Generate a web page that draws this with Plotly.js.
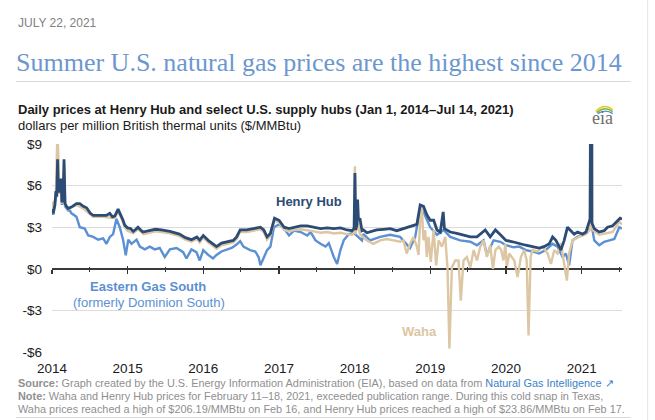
<!DOCTYPE html>
<html>
<head>
<meta charset="utf-8">
<script src="https://cdn.plot.ly/plotly-3.0.1.min.js"></script>
<style>
html,body{margin:0;padding:0;background:#fff;}
#chart{width:655px;height:420px;}
</style>
</head>
<body>
<div id="chart"></div>
<script>
// ---------- DATA ----------
const hhDates = ["2014-01-01","2014-01-07","2014-01-15","2014-01-20","2014-01-24","2014-01-28","2014-01-31","2014-02-05","2014-02-10","2014-02-13","2014-02-18","2014-02-24","2014-02-28","2014-03-05","2014-03-12","2014-03-20","2014-04-10","2014-04-29","2014-05-15","2014-06-01","2014-06-17","2014-07-05","2014-07-19","2014-08-10","2014-09-05","2014-09-20","2014-10-07","2014-10-20","2014-10-31","2014-11-16","2014-11-25","2014-12-02","2014-12-10","2014-12-18","2015-01-01","2015-01-15","2015-01-28","2015-02-10","2015-02-20","2015-03-05","2015-03-16","2015-04-15","2015-05-15","2015-06-13","2015-07-24","2015-09-08","2015-10-07","2015-11-05","2015-12-01","2015-12-15","2016-01-01","2016-01-25","2016-02-17","2016-03-05","2016-03-29","2016-04-22","2016-05-25","2016-06-10","2016-06-27","2016-07-29","2016-08-31","2016-10-03","2016-10-19","2016-11-04","2016-11-20","2016-12-10","2017-01-01","2017-01-25","2017-02-18","2017-03-14","2017-04-15","2017-05-17","2017-06-18","2017-07-20","2017-08-21","2017-09-22","2017-10-24","2017-11-25","2017-12-19","2017-12-29","2018-01-02","2018-01-06","2018-01-12","2018-01-15","2018-01-19","2018-01-26","2018-02-05","2018-02-12","2018-03-01","2018-03-16","2018-04-17","2018-05-20","2018-06-21","2018-07-23","2018-08-24","2018-09-25","2018-10-28","2018-11-13","2018-11-29","2018-12-15","2018-12-31","2019-01-17","2019-02-02","2019-02-18","2019-03-04","2019-03-10","2019-04-07","2019-05-09","2019-06-10","2019-07-13","2019-08-14","2019-09-23","2019-10-17","2019-11-11","2019-12-05","2020-01-01","2020-02-02","2020-03-05","2020-04-06","2020-05-08","2020-06-09","2020-07-03","2020-07-28","2020-08-13","2020-08-29","2020-09-14","2020-09-22","2020-10-08","2020-10-24","2020-11-09","2020-11-25","2020-12-11","2021-01-05","2021-01-21","2021-02-03","2021-02-10","2021-02-17","2021-02-19","2021-03-02","2021-03-26","2021-04-19","2021-05-05","2021-05-30","2021-06-23","2021-07-05","2021-07-14"];
const hhPrices = [4.3,4.0,4.6,5.6,5.2,7.9,6.0,5.5,5.9,6.5,4.8,5.0,7.9,4.7,4.5,4.35,4.5,4.7,4.7,4.5,4.4,4.0,3.85,3.85,3.9,3.85,4.0,3.75,3.8,4.3,4.0,3.8,3.5,3.15,2.95,2.9,2.7,2.85,3.0,2.8,2.65,2.75,2.85,2.8,2.7,2.5,2.25,2.1,2.3,2.07,2.4,2.05,1.8,1.6,1.85,1.95,2.05,2.3,2.8,2.8,2.9,3.0,2.8,2.3,2.55,3.65,3.5,3.0,2.9,3.0,3.1,3.1,3.0,2.9,2.95,2.9,2.95,2.8,2.75,2.9,6.9,2.8,3.2,5.0,3.5,3.65,2.75,2.8,2.6,2.65,2.8,2.85,2.9,2.75,2.9,3.0,3.2,4.6,4.5,3.9,3.5,3.5,2.8,2.65,4.1,2.9,2.65,2.55,2.45,2.3,2.3,2.8,2.3,2.8,2.45,2.05,1.95,1.8,1.7,1.6,1.5,1.6,1.8,2.3,2.05,1.6,1.35,2.05,3.0,2.75,2.5,2.65,2.5,2.65,3.2,3.6,23.86,3.3,2.9,2.65,2.75,3.0,3.1,3.5,3.65,3.6];

const egsDates = ["2014-01-01","2014-01-07","2014-01-20","2014-01-28","2014-01-31","2014-02-13","2014-02-18","2014-02-28","2014-03-05","2014-03-20","2014-03-28","2014-04-05","2014-04-29","2014-05-15","2014-06-08","2014-06-25","2014-07-19","2014-08-12","2014-09-05","2014-09-21","2014-10-07","2014-10-23","2014-11-08","2014-11-24","2014-12-10","2014-12-23","2015-01-04","2015-01-20","2015-02-13","2015-03-01","2015-03-25","2015-04-18","2015-05-12","2015-06-05","2015-06-29","2015-07-24","2015-08-25","2015-09-26","2015-10-12","2015-11-05","2015-11-29","2015-12-15","2016-01-01","2016-01-25","2016-02-17","2016-03-05","2016-03-29","2016-04-22","2016-05-17","2016-06-10","2016-06-27","2016-07-13","2016-08-14","2016-09-08","2016-09-24","2016-10-03","2016-10-19","2016-11-04","2016-11-20","2016-12-07","2017-01-01","2017-01-25","2017-02-18","2017-03-14","2017-04-15","2017-05-17","2017-06-02","2017-06-26","2017-07-20","2017-08-13","2017-08-29","2017-09-22","2017-10-08","2017-10-24","2017-11-09","2017-12-03","2017-12-27","2018-01-20","2018-02-05","2018-02-12","2018-03-16","2018-05-04","2018-06-21","2018-08-08","2018-09-25","2018-10-20","2018-11-13","2018-11-29","2018-12-31","2019-02-02","2019-03-06","2019-04-07","2019-05-25","2019-07-13","2019-08-14","2019-09-15","2019-10-01","2019-11-02","2019-12-05","2020-01-01","2020-02-07","2020-03-05","2020-04-06","2020-05-08","2020-06-09","2020-07-11","2020-08-13","2020-09-06","2020-09-30","2020-10-16","2020-11-01","2020-11-17","2020-12-11","2021-01-05","2021-01-29","2021-02-17","2021-03-02","2021-03-26","2021-04-19","2021-05-14","2021-06-07","2021-07-01","2021-07-14"];
const egsPrices = [4.2,3.9,5.3,7.0,5.8,6.0,4.6,6.5,4.5,4.2,4.2,4.0,3.75,3.0,2.9,2.4,2.3,2.1,2.2,1.8,2.3,2.5,3.6,3.0,2.1,0.97,2.1,1.8,2.1,1.6,1.4,1.6,1.4,1.5,0.85,1.4,1.5,1.2,0.74,1.4,1.2,0.6,1.35,1.0,0.75,1.0,1.25,1.35,1.5,1.75,2.0,1.6,1.35,1.25,0.85,0.25,0.85,1.35,1.6,3.0,3.2,2.9,2.4,2.75,2.65,2.4,2.65,2.05,1.8,1.6,1.85,0.85,0.35,1.35,2.05,2.5,2.6,2.3,2.05,2.5,2.05,2.3,2.45,2.3,1.5,2.3,4.4,4.1,3.0,2.45,2.8,2.3,2.05,1.95,1.7,2.05,1.0,2.05,1.95,1.7,1.55,1.6,1.35,1.25,1.1,1.35,1.8,1.6,0.85,1.1,0.25,2.05,2.3,2.45,2.65,3.2,2.05,1.7,1.95,2.05,2.15,3.0,2.9];

const wahaDates = ["2014-01-01","2014-01-07","2014-01-20","2014-01-27","2014-01-31","2014-02-05","2014-02-13","2014-02-18","2014-02-28","2014-03-05","2014-03-20","2014-04-29","2014-06-01","2014-07-19","2014-09-05","2014-10-31","2014-11-16","2014-12-02","2014-12-18","2015-01-01","2015-01-28","2015-02-20","2015-03-20","2015-04-15","2015-05-15","2015-06-13","2015-07-24","2015-09-08","2015-10-07","2015-11-05","2015-12-01","2015-12-15","2016-01-01","2016-01-25","2016-02-17","2016-03-05","2016-03-29","2016-04-22","2016-05-25","2016-06-10","2016-06-27","2016-07-29","2016-08-31","2016-10-03","2016-10-19","2016-11-04","2016-11-20","2016-12-10","2017-01-01","2017-01-25","2017-02-18","2017-03-14","2017-04-15","2017-05-17","2017-06-18","2017-07-20","2017-08-21","2017-09-22","2017-10-24","2017-11-25","2017-12-19","2017-12-29","2018-01-02","2018-01-06","2018-01-15","2018-01-20","2018-01-26","2018-02-27","2018-04-01","2018-05-04","2018-06-05","2018-07-07","2018-08-08","2018-08-24","2018-09-09","2018-09-25","2018-10-11","2018-10-28","2018-11-05","2018-11-13","2018-11-21","2018-11-29","2018-12-07","2018-12-15","2018-12-23","2019-01-03","2019-01-17","2019-01-29","2019-02-10","2019-02-26","2019-03-14","2019-03-25","2019-04-03","2019-04-15","2019-05-01","2019-05-17","2019-05-28","2019-06-10","2019-06-26","2019-07-13","2019-07-29","2019-08-14","2019-08-30","2019-09-15","2019-10-01","2019-10-17","2019-10-30","2019-11-11","2019-11-27","2019-12-09","2019-12-20","2019-12-29","2020-01-05","2020-01-17","2020-02-10","2020-02-26","2020-03-13","2020-03-29","2020-04-10","2020-04-19","2020-04-29","2020-05-08","2020-06-02","2020-06-26","2020-07-20","2020-08-05","2020-08-21","2020-09-06","2020-09-22","2020-10-08","2020-10-21","2020-11-01","2020-11-17","2020-12-19","2021-01-21","2021-02-09","2021-02-16","2021-02-19","2021-02-23","2021-03-26","2021-04-27","2021-05-30","2021-07-01","2021-07-14"];
const wahaPrices = [4.85,4.0,5.5,9.8,8.5,5.4,6.2,4.7,7.5,4.6,4.3,4.6,4.35,3.75,3.75,3.65,4.15,3.65,3.0,2.75,2.55,2.85,2.5,2.6,2.7,2.65,2.55,2.35,2.1,1.95,2.15,1.9,2.25,1.9,1.65,1.45,1.7,1.8,1.9,2.15,2.65,2.65,2.75,2.85,2.65,2.1,2.4,3.5,3.35,2.8,2.7,2.8,2.85,2.8,2.7,2.6,2.65,2.55,2.6,2.5,2.45,2.6,7.4,2.5,4.6,2.9,2.5,2.05,1.8,2.05,2.15,2.05,1.95,2.05,1.1,1.8,2.3,1.6,1.0,3.5,4.4,2.05,2.8,0.85,2.3,0.5,2.8,0.25,2.05,1.6,2.3,0.0,-5.75,0.1,0.6,0.6,-2.3,0.6,0.85,0.1,1.35,0.6,1.6,2.05,0.85,1.7,0.0,1.35,1.6,1.35,0.6,1.8,0.1,1.1,0.6,-0.6,0.85,1.35,0.6,-4.8,0.85,1.35,1.25,1.6,1.1,0.35,1.35,1.1,1.85,0.35,-0.85,1.1,2.05,2.3,2.5,2.8,206.19,3.0,2.8,2.45,2.55,2.65,3.4,3.2];

const yTickVals = [-6,-3,0,3,6,9];
const yTickText = ["-$6","-$3","$0","$3","$6","$9"];
const yearTicks = ["2014-01-01","2015-01-01","2016-01-01","2017-01-01","2018-01-01","2019-01-01","2020-01-01","2021-01-01"];
const yearLabels = ["2014","2015","2016","2017","2018","2019","2020","2021"];
const midYearTicks = ["2014-07-01","2015-07-01","2016-07-01","2017-07-01","2018-07-01","2019-07-01","2020-07-01","2021-07-01"];
const xRange = ["2014-01-01","2021-07-14"];

// ---------- STYLE ----------
const C_HH = "#2c4b75", C_EGS = "#5b90d3", C_WAHA = "#dcc6a3";
const SANS = "Liberation Sans, Arial, sans-serif";
const SERIF = "Liberation Serif, Times New Roman, serif";

// plot box in pixels: left 52, right 622.3, top 144.3, bottom 351.7
const PL = 52, PR = 622.3, PT = 144.3, PB = 351.7;
const xp = px => (px - PL) / (PR - PL);
const yp = py => (PB - py) / (PB - PT);

const traces = [
  {type:"scatter", mode:"lines", x:egsDates, y:egsPrices, xaxis:"x", yaxis:"y",
   line:{color:C_EGS, width:2.4}, name:"Eastern Gas South", hoverinfo:"skip"},
  {type:"scatter", mode:"lines", x:wahaDates, y:wahaPrices, xaxis:"x2", yaxis:"y",
   line:{color:C_WAHA, width:2.4}, name:"Waha", hoverinfo:"skip"},
  {type:"scatter", mode:"lines", x:hhDates, y:hhPrices, xaxis:"x3", yaxis:"y",
   line:{color:C_HH, width:2.8}, name:"Henry Hub", hoverinfo:"skip"}
];

const baseX = {type:"date", range:xRange, showgrid:false, zeroline:false, fixedrange:true};

const FOOT = {family:SANS, size:10.9, color:"#8f8f8f"};

const layout = {
  width:655, height:420,
  margin:{l:PL, r:655-PR, t:PT, b:420-PB},
  paper_bgcolor:"#fff", plot_bgcolor:"#fff",
  showlegend:false,
  font:{family:SANS, color:"#222"},
  xaxis: Object.assign({}, baseX, {
    tickmode:"array", tickvals:yearTicks, ticktext:yearLabels,
    ticks:"", showline:false, ticklabelstandoff:6,
    tickfont:{size:13.5, color:"#1a1a1a", family:SANS}
  }),
  xaxis2: Object.assign({}, baseX, {
    overlaying:"x", matches:"x", anchor:"free", position:0.4, side:"bottom",
    tickmode:"array", tickvals:yearTicks, showticklabels:false,
    ticks:"outside", ticklen:4, tickwidth:1.2, tickcolor:"#333", showline:false,
    minor:{tickmode:"array", tickvals:midYearTicks, ticks:"outside", ticklen:2, tickwidth:1, tickcolor:"#333"}
  }),
  xaxis3: Object.assign({}, baseX, {
    overlaying:"x", matches:"x", anchor:"free", position:0.4, side:"bottom",
    tickmode:"array", tickvals:yearTicks, showticklabels:false,
    ticks:"inside", ticklen:3, tickwidth:1.2, tickcolor:"#333", showline:false,
    minor:{tickmode:"array", tickvals:midYearTicks, ticks:"inside", ticklen:2, tickwidth:1, tickcolor:"#333"}
  }),
  yaxis: {
    range:[-6,9], tickmode:"array", tickvals:yTickVals, ticktext:yTickText,
    showgrid:true, gridcolor:"#dcdcdc", gridwidth:1,
    zeroline:true, zerolinecolor:"#3a3a3a", zerolinewidth:1.5,
    showline:false, ticks:"", ticklabelstandoff:9, fixedrange:true,
    tickfont:{size:13.5, color:"#1a1a1a", family:SANS}
  },
  annotations: [
    {text:"JULY 22, 2021", x:xp(16), y:yp(24), xref:"paper", yref:"paper", xanchor:"left", yanchor:"middle",
     showarrow:false, font:{family:SANS, size:12, color:"#808080"}},
    {text:"Summer U.S. natural gas prices are the highest since 2014", x:xp(14), y:yp(63), xref:"paper", yref:"paper",
     xanchor:"left", yanchor:"middle", showarrow:false, font:{family:SERIF, size:26, color:"#6b97cf"}},
    {text:"<b>Daily prices at Henry Hub and select U.S. supply hubs (Jan 1, 2014–Jul 14, 2021)</b>", x:xp(16), y:yp(110),
     xref:"paper", yref:"paper", xanchor:"left", yanchor:"middle", showarrow:false, font:{family:SANS, size:13, color:"#1a1a1a"}},
    {text:"dollars per million British thermal units ($/MMBtu)", x:xp(16), y:yp(125.5),
     xref:"paper", yref:"paper", xanchor:"left", yanchor:"middle", showarrow:false, font:{family:SANS, size:13, color:"#1a1a1a"}},
    {text:"eia", x:xp(603), y:yp(118), xref:"paper", yref:"paper", xanchor:"center", yanchor:"middle",
     showarrow:false, font:{family:SERIF, size:18, color:"#6e6e6e"}},
    {text:"<b>Henry Hub</b>", x:xp(309), y:yp(201.7), xref:"paper", yref:"paper", xanchor:"center", yanchor:"middle",
     showarrow:false, font:{family:SANS, size:13, color:C_HH}},
    {text:"<b>Eastern Gas South</b>", x:xp(148), y:yp(286), xref:"paper", yref:"paper", xanchor:"center", yanchor:"middle",
     showarrow:false, font:{family:SANS, size:13, color:C_EGS}},
    {text:"(formerly Dominion South)", x:xp(149), y:yp(302.7), xref:"paper", yref:"paper", xanchor:"center", yanchor:"middle",
     showarrow:false, font:{family:SANS, size:13, color:C_EGS}},
    {text:"<b>Waha</b>", x:xp(419.5), y:yp(331.7), xref:"paper", yref:"paper", xanchor:"center", yanchor:"middle",
     showarrow:false, font:{family:SANS, size:13, color:C_WAHA}},
    {text:"<b>Source:</b> Graph created by the U.S. Energy Information Administration (EIA), based on data from <span style='color:#3d7fc6'>Natural Gas Intelligence ↗</span>",
     x:xp(16), y:yp(383), xref:"paper", yref:"paper", xanchor:"left", yanchor:"middle", showarrow:false, font:FOOT},
    {text:"<b>Note:</b> Waha and Henry Hub prices for February 11–18, 2021, exceeded publication range. During this cold snap in Texas,",
     x:xp(16), y:yp(396), xref:"paper", yref:"paper", xanchor:"left", yanchor:"middle", showarrow:false, font:FOOT},
    {text:"Waha prices reached a high of $206.19/MMBtu on Feb 16, and Henry Hub prices reached a high of $23.86/MMBtu on Feb 17.",
     x:xp(16), y:yp(409), xref:"paper", yref:"paper", xanchor:"left", yanchor:"middle", showarrow:false, font:FOOT}
  ],
  shapes: [
    {type:"line", xref:"paper", yref:"paper", x0:xp(16), x1:xp(631), y0:yp(82), y1:yp(82), line:{color:"#d9d9d9", width:1}},
    {type:"line", xref:"paper", yref:"paper", x0:xp(16), x1:xp(631), y0:yp(417), y1:yp(417), line:{color:"#d9d9d9", width:1}},
    {type:"line", xref:"paper", yref:"paper", x0:xp(648), x1:xp(648), y0:yp(0), y1:yp(420), line:{color:"#e6e6e6", width:1}},
    {type:"path", xref:"paper", yref:"paper", xsizemode:"pixel", ysizemode:"pixel", xanchor:xp(604), yanchor:yp(112),
     path:"M -8 0 Q 0 9 9 2", line:{color:"#f0c419", width:1.4}},
    {type:"path", xref:"paper", yref:"paper", xsizemode:"pixel", ysizemode:"pixel", xanchor:xp(604), yanchor:yp(112),
     path:"M -7 -1 Q 1 6 9 0", line:{color:"#7bb843", width:1.4}},
    {type:"path", xref:"paper", yref:"paper", xsizemode:"pixel", ysizemode:"pixel", xanchor:xp(604), yanchor:yp(112),
     path:"M -6 -2 Q 2 3 9 -2", line:{color:"#3f8fd2", width:1.4}}
  ]
};

Plotly.newPlot("chart", traces, layout, {displayModeBar:false, staticPlot:true});
</script>
</body>
</html>
